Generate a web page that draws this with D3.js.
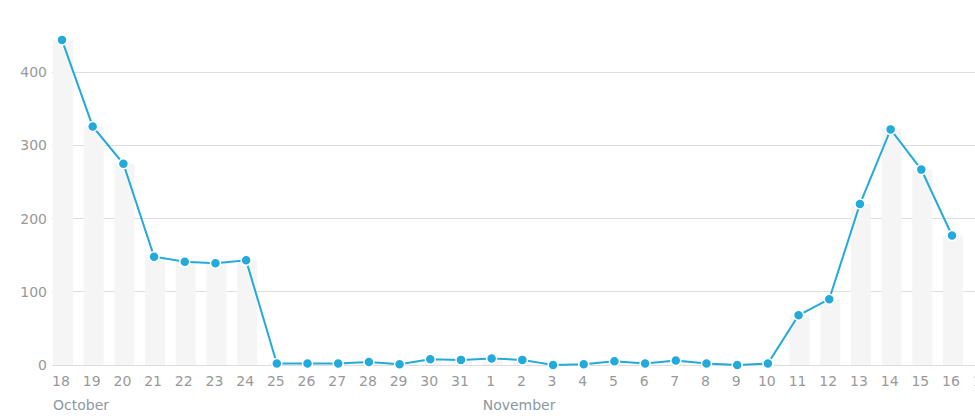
<!DOCTYPE html>
<html><head><meta charset="utf-8">
<script src="https://cdn.jsdelivr.net/npm/d3@7"></script>
<style>body{margin:0;background:#fff;}svg{display:block;font-family:"DejaVu Sans",sans-serif;}</style>
</head><body>
<svg id="c" width="975" height="420"></svg>
<script>
const dates = ["2023-10-18","2023-10-19","2023-10-20","2023-10-21","2023-10-22","2023-10-23","2023-10-24","2023-10-25","2023-10-26","2023-10-27","2023-10-28","2023-10-29","2023-10-30","2023-10-31","2023-11-01","2023-11-02","2023-11-03","2023-11-04","2023-11-05","2023-11-06","2023-11-07","2023-11-08","2023-11-09","2023-11-10","2023-11-11","2023-11-12","2023-11-13","2023-11-14","2023-11-15","2023-11-16"];
const values = [444,326,275,148,141,139,143,2,2,2,4,1,8,7,9,7,0,1,5,2,6,2,0,2,68,90,220,322,267,177];
const yTicks = [0,100,200,300,400];
const months = [{label:"October", date:"2023-10-18"},{label:"November", date:"2023-11-01"}];

const parse = d3.timeParse("%Y-%m-%d");
const data = dates.map((d,i)=>({date:parse(d), value:values[i]}));
const svg = d3.select("#c");
const day = 86400000;
const first = parse(dates[0]);
const pxPerDay = 30.69;
const left = 52, right = 1000;
const x = d3.scaleTime()
  .domain([new Date(+first - (62-left)/pxPerDay*day), new Date(+first + (right-62)/pxPerDay*day)])
  .range([left, right]);
const y = d3.scaleLinear().domain([0,400]).range([365,72.3]);

// grid
svg.append("g").selectAll("line").data(yTicks.filter(t=>t>0)).join("line")
  .attr("x1", left).attr("x2", 975).attr("y1", d=>y(d)).attr("y2", d=>y(d))
  .attr("stroke", "#dddddd").attr("stroke-width", 1).attr("shape-rendering","crispEdges");

// bars
svg.append("g").selectAll("rect").data(data).join("rect")
  .attr("x", d=>x(d.date)-9).attr("width", 20)
  .attr("y", d=>y(d.value)).attr("height", d=>y(0)-y(d.value))
  .attr("fill", "#f5f5f5");

// baseline
svg.append("line").attr("x1", left).attr("x2", 975).attr("y1", y(0)).attr("y2", y(0))
  .attr("stroke", "#dddddd").attr("shape-rendering","crispEdges");

// y labels
svg.append("g").selectAll("text").data(yTicks).join("text")
  .attr("x", 47).attr("y", d=>y(d)).attr("dy","0.35em")
  .attr("text-anchor","end").attr("font-size", 14).attr("fill", "#999")
  .text(d=>d);

// x axis
const xAxis = d3.axisBottom(x).ticks(d3.timeDay.every(1)).tickSize(0).tickPadding(0)
  .tickFormat(d3.timeFormat("%-d"));
const gx = svg.append("g").attr("transform", `translate(-1.5,${y(0)+11.5})`).call(xAxis);
gx.select(".domain").remove();
gx.selectAll("text").attr("font-size", 14).attr("fill", "#999").attr("font-family","DejaVu Sans, sans-serif").attr("dy","0.71em");

// month labels
svg.append("g").selectAll("text").data(months).join("text")
  .attr("x", d=>x(parse(d.date))-9).attr("y", 410)
  .attr("font-size", 14).attr("fill", "#8c97a3").text(d=>d.label);

// line
const line = d3.line().x(d=>x(d.date)).y(d=>y(d.value));
svg.append("path").datum(data).attr("d", line).attr("fill","none")
  .attr("stroke", "#22aadb").attr("stroke-width", 2);

svg.append("g").selectAll("circle").data(data).join("circle")
  .attr("cx", d=>x(d.date)).attr("cy", d=>y(d.value)).attr("r", 5)
  .attr("fill", "#22aadb").attr("stroke", "#fff").attr("stroke-width", 1.5);
</script>
</body></html>
